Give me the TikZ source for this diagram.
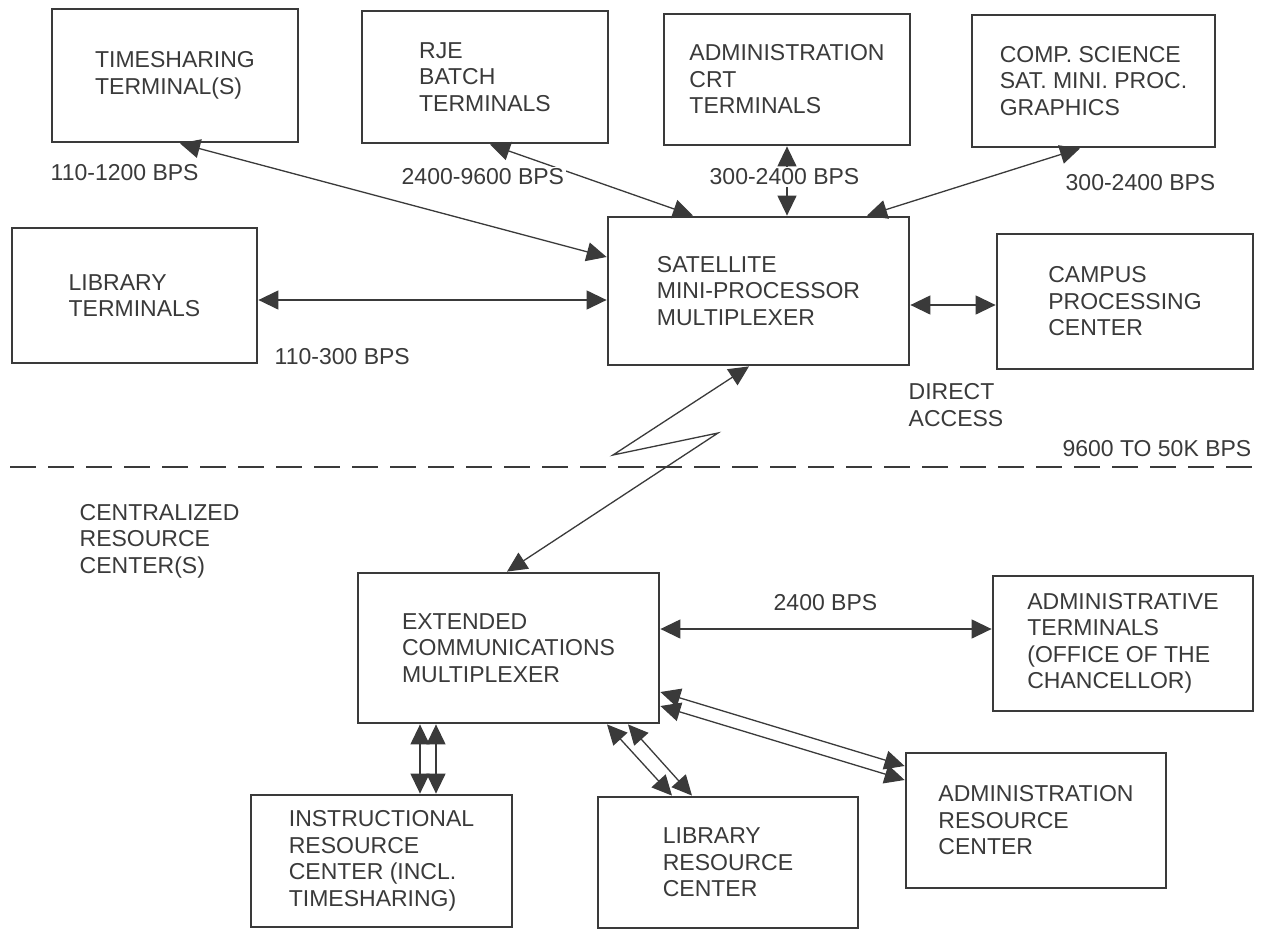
\documentclass[tikz,border=0pt]{standalone}
\usepackage{fontspec}
\setmainfont{Liberation Sans}
\usetikzlibrary{arrows.meta}
\definecolor{ink}{HTML}{3A3A3A}

\begin{document}
\begin{tikzpicture}[
    x=1pt, y=-1pt,
    color=ink,
    font={\fontsize{23}{26.5}\selectfont},
    block/.style={draw, line width=2.8pt, align=left, inner sep=0pt},
    boxsize/.style 2 args={minimum width=#1pt, minimum height=#2pt},
    link/.style={{Triangle[length=20pt,width=19pt]}-{Triangle[length=20pt,width=19pt]}, line width=1.3pt},
    rate/.style={anchor=west, inner sep=1.5pt},
    cover/.style={rate, fill=white},
    divider/.style={line width=2.6pt, dash pattern=on 26pt off 12pt}
]
\fill[white] (0,0) rectangle (1272,930);
\useasboundingbox (0,0) rectangle (1272,930);

% terminals above the line
\node[block, boxsize={246}{133}] (tsh) at (175,75.5) {TIMESHARING\\TERMINAL(S)};
\node[block, boxsize={246}{132}] (rje) at (485,77) {RJE\\BATCH\\TERMINALS};
\node[block, boxsize={246}{131}] (crt) at (787,79.5) {ADMINISTRATION\\CRT\\TERMINALS};
\node[block, boxsize={243}{132}] (csci) at (1093.5,81) {COMP. SCIENCE\\SAT. MINI. PROC.\\GRAPHICS};
\node[block, boxsize={245}{135}] (libt) at (134.5,295.5) {LIBRARY\\TERMINALS};
\node[block, boxsize={301}{148}] (sat) at (758.5,291) {SATELLITE\\MINI-PROCESSOR\\MULTIPLEXER};
\node[block, boxsize={256}{135}] (campus) at (1125,301.5) {CAMPUS\\PROCESSING\\CENTER};

% resource centers below the line
\node[block, boxsize={301}{150}] (ecm) at (508.5,648) {EXTENDED\\COMMUNICATIONS\\MULTIPLEXER};
\node[block, boxsize={260}{135}] (adt) at (1123,643.5) {ADMINISTRATIVE\\TERMINALS\\(OFFICE OF THE\\CHANCELLOR)};
\node[block, boxsize={260}{135}] (arc) at (1036,820.5) {ADMINISTRATION\\RESOURCE\\CENTER};
\node[block, boxsize={261}{132}] (irc) at (381.5,861) {INSTRUCTIONAL\\RESOURCE\\CENTER (INCL.\\TIMESHARING)};
\node[block, boxsize={260}{131}] (lrc) at (728,862.5) {LIBRARY\\RESOURCE\\CENTER};

\draw[divider] (10,467) -- (1253,467);

\draw[link] ([xshift=5pt]tsh.south) -- ([yshift=34pt]sat.west);
\draw[link] ([xshift=5pt]rje.south) -- ([xshift=-65.5pt]sat.north);
\draw[link] (crt.south) -- (crt.south |- sat.north);
\draw[link] ([xshift=-13.5pt]csci.south) -- ([xshift=108.5pt]sat.north);
\draw[link] ([yshift=-4.5pt]libt.east) -- ([yshift=-9pt]sat.west);
\draw[link] ([yshift=-14pt]sat.east) -- ([yshift=-14pt]sat.east -| campus.west);

% radio link
\coordinate (zigA) at (613,455);
\coordinate (zigB) at (718,433);
\draw[link, line join=miter] ([xshift=-9.5pt]sat.south) -- (zigA) -- (zigB) -- ([xshift=-1.5pt]ecm.north);

\draw[link] ([yshift=19pt]ecm.east) -- ([yshift=19pt]ecm.east -| adt.west);
\draw[link] ([yshift=-44pt]ecm.east) -- ([yshift=54.5pt]arc.west);
\draw[link] ([yshift=-58pt]ecm.east) -- ([yshift=40.5pt]arc.west);
\draw[link] ([xshift=-88.5pt]ecm.south) -- ([xshift=-88.5pt]ecm.south |- irc.north);
\draw[link] ([xshift=-72.5pt]ecm.south) -- ([xshift=-72.5pt]ecm.south |- irc.north);
\draw[link] ([xshift=98.5pt]ecm.south) -- ([xshift=-56pt]lrc.north);
\draw[link] ([xshift=119.5pt]ecm.south) -- ([xshift=-36pt]lrc.north);

% rates
\node[rate] (r1) at (49,173) {110-1200 BPS};
\node[cover] (r2) at (400,177) {2400-9600 BPS};
\node[cover] (r3) at (708,177) {300-2400 BPS};
\node[rate] (r4) at (1064,183) {300-2400 BPS};
\node[rate] (r5) at (273,357) {110-300 BPS};
\node[rate, align=left] (direct) at (907,405) {DIRECT\\ACCESS};
\node[rate, anchor=east] (trunk) at (1253,449) {9600 TO 50K BPS};
\node[rate, align=left] (crc) at (78,541) {CENTRALIZED\\RESOURCE\\CENTER(S)};
\node[rate] (r6) at (772,603) {2400 BPS};
\end{tikzpicture}
\end{document}
